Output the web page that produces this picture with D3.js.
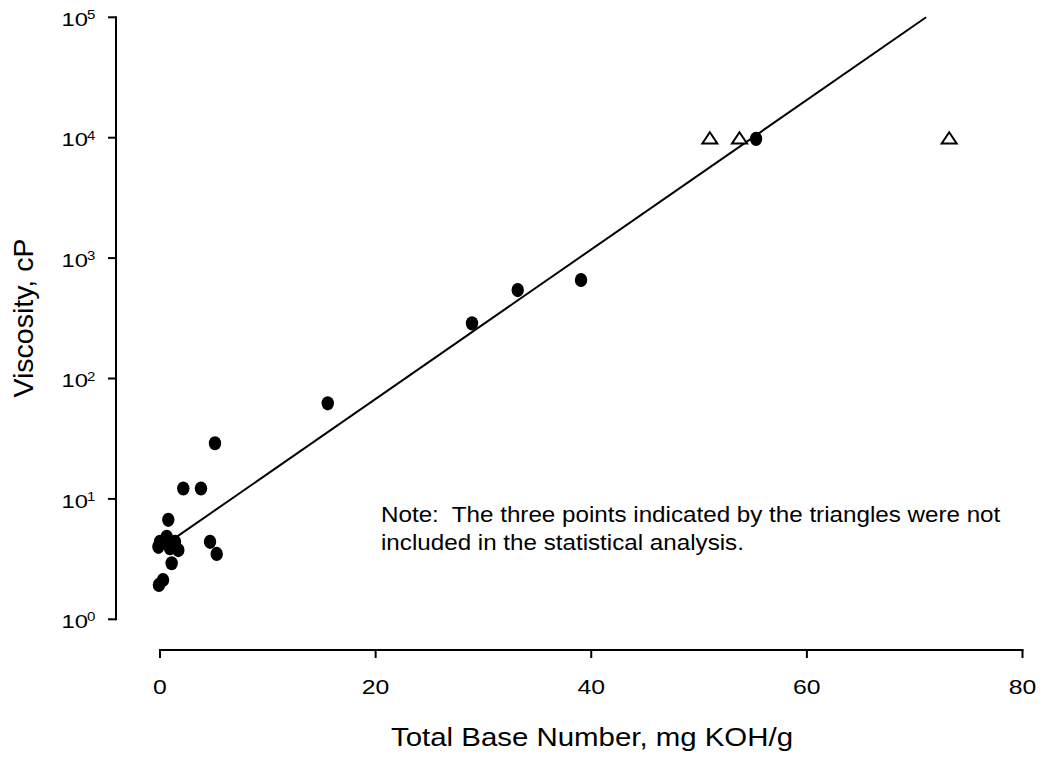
<!DOCTYPE html>
<html>
<head>
<meta charset="utf-8">
<script src="https://cdn.jsdelivr.net/npm/d3@7"></script>
<style>
  html, body { margin: 0; padding: 0; background: #fff; }
  text { font-family: "Liberation Sans", Arial, sans-serif; fill: #000; }
</style>
</head>
<body>
<svg id="chart" width="1043" height="759"></svg>
<script>
// Included data points (filled circles)
const tbnIncluded = [0.77, 0.0, 0.62, 1.39, 1.70, -0.15, 0.93, 1.08, -0.1, 0.28, 2.16, 3.80, 5.10, 4.64, 5.26, 15.56, 28.94, 33.18, 39.05, 55.29];
const viscIncluded = [6.7, 4.4, 4.85, 4.4, 3.76, 4.0, 3.9, 2.92, 1.93, 2.12, 12.2, 12.2, 29.0, 4.4, 3.49, 62.2, 287, 543, 658, 9780];
// Excluded data points (open triangles)
const tbnExcluded = [51.0, 53.75, 73.2];
const viscExcluded = [10000, 10000, 10000];
// Regression line endpoints
const fitX = [0, 71.06];
const fitY = [3.88, 100000];
// Axis ticks
const xTicks = [0, 20, 40, 60, 80];
const yTickExp = [0, 1, 2, 3, 4, 5];
const noteLines = ["Note:  The three points indicated by the triangles were not", "included in the statistical analysis."];
const xTitle = "Total Base Number, mg KOH/g";
const yTitle = "Viscosity, cP";

const svg = d3.select("#chart");
const x = d3.scaleLinear().domain([0, 80]).range([160, 1022.5]);
const y = d3.scaleLog().domain([1, 100000]).range([619.3, 17.3]);

// helper: horizontally stretched text
function stretchedText(px, py, sx, size, anchor) {
  return svg.append("g").attr("transform", `translate(${px},${py}) scale(${sx},1)`)
    .append("text").attr("x", 0).attr("y", 0).attr("text-anchor", anchor || "start")
    .style("font-size", size + "px");
}

// Y axis
const yAxisX = 116;
svg.append("line").attr("x1", yAxisX).attr("x2", yAxisX)
  .attr("y1", y(100000) - 1).attr("y2", y(1) + 1)
  .attr("stroke", "#000").attr("stroke-width", 2);
yTickExp.forEach(e => {
  const yy = y(Math.pow(10, e));
  svg.append("line").attr("x1", yAxisX - 8).attr("x2", yAxisX).attr("y1", yy).attr("y2", yy)
    .attr("stroke", "#000").attr("stroke-width", 2);
  stretchedText(88, yy + 8.7, 1.25, 19, "end").text("10");
  stretchedText(87, yy + 2, 1.25, 12, "start").text(e);
});

// X axis
const xAxisY = 650;
svg.append("line").attr("x1", x(0) - 1).attr("x2", x(80) + 1).attr("y1", xAxisY).attr("y2", xAxisY)
  .attr("stroke", "#000").attr("stroke-width", 2);
xTicks.forEach(v => {
  svg.append("line").attr("x1", x(v)).attr("x2", x(v)).attr("y1", xAxisY).attr("y2", xAxisY + 8)
    .attr("stroke", "#000").attr("stroke-width", 2);
  stretchedText(x(v), 694, 1.18, 21, "middle").text(v);
});

// Axis titles
stretchedText(592, 746, 1.11, 26.5, "middle").text(xTitle);
svg.append("text").attr("transform", "translate(33,318) rotate(-90)").attr("text-anchor", "middle")
  .style("font-size", "28.5px").text(yTitle);

// Regression line
const lineGen = d3.line().x(d => x(d[0])).y(d => y(d[1]));
svg.append("path").datum(d3.zip(fitX, fitY)).attr("d", lineGen)
  .attr("fill", "none").attr("stroke", "#000").attr("stroke-width", 2);

// Filled circles (slightly tall, as in the reference)
svg.selectAll("ellipse.inc").data(d3.zip(tbnIncluded, viscIncluded)).enter().append("ellipse")
  .attr("class", "inc").attr("cx", d => x(d[0])).attr("cy", d => y(d[1]))
  .attr("rx", 6.2).attr("ry", 7.1).attr("fill", "#000");

// Open triangles
const triShape = [[0, -6], [7.5, 5.2], [-7.5, 5.2]];
const triPath = d3.line()(triShape) + "Z";
svg.selectAll("path.exc").data(d3.zip(tbnExcluded, viscExcluded)).enter().append("path")
  .attr("class", "exc").attr("d", triPath)
  .attr("transform", d => `translate(${x(d[0])},${y(d[1]) + 0.5})`)
  .attr("fill", "#fff").attr("stroke", "#000").attr("stroke-width", 2)
  .attr("stroke-linejoin", "miter");

// Note
noteLines.forEach((s, i) => {
  stretchedText(381, 521.5 + i * 28, 1.1, 22, "start")
    .attr("xml:space", "preserve").style("white-space", "pre").text(s);
});
</script>
</body>
</html>
